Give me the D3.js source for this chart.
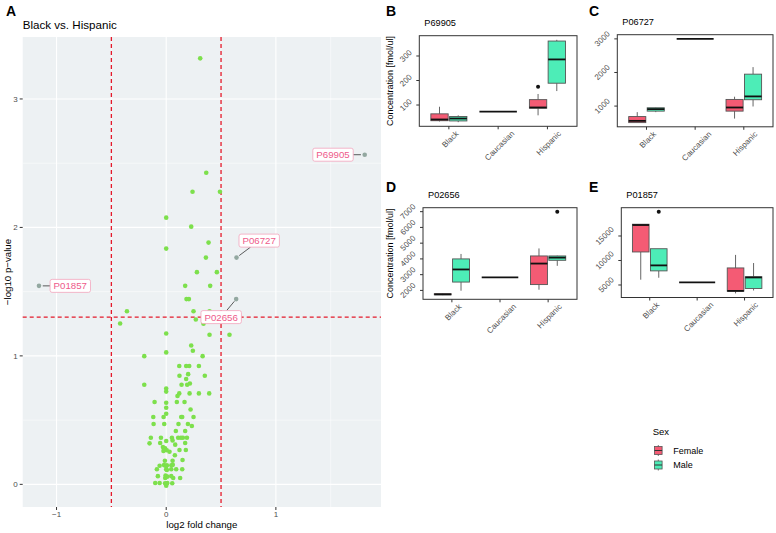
<!DOCTYPE html>
<html><head><meta charset="utf-8">
<script src="https://cdn.jsdelivr.net/npm/d3@7"></script>
<style>body{margin:0;background:#fff;} svg{display:block;font-family:"Liberation Sans",Arial,sans-serif;}</style>
</head><body><svg id="c" width="776" height="533"></svg>
<script>
// ---------------- DATA ----------------
// Volcano plot (Black vs. Hispanic): log2 fold change and -log10 p-value
const volcanoLog2FC = [
 0.31,0.365,0.24,0.49,0.0,0.228,0.386,0.0,0.362,0.28,0.462,0.173,0.401,0.185,0.207,-0.358,0.249,0.395,-0.42,0.27,0.34,0.0,0.395,0.577,0.228,0.243,0.0,-0.2,0.332,
 0.119,0.182,0.21,0.298,0.121,0.2,0.182,0.352,-0.2,0.14,0.191,0.216,0.0,0.0,0.119,0.103,0.213,0.298,0.392,
 -0.106,0.0,0.097,0.167,0.0,0.222,0.0,-0.118,-0.024,0.137,0.146,0.249,-0.115,-0.018,0.112,0.198,0.234,0.088,0.173,
 -0.14,-0.048,0.052,0.109,0.134,0.152,0.189,-0.152,-0.055,0.0,0.058,0.082,0.173,
 -0.03,-0.02,-0.01,-0.025,0.005,0.03,0.121,0.179,0.079,0.058,-0.012,0.149,
 -0.02,-0.06,0.006,0.0,0.047,0.06,-0.085,0.0,0.006,0.046,0.091,0.146,
 -0.076,-0.006,0.009,0.046,-0.009,0.064,0.127,-0.1,-0.06,-0.01,0.0,0.01,0.055,0.0
];
const volcanoNegLog10P = [
 3.316,2.426,2.278,2.278,2.076,2.006,1.882,1.835,1.765,1.652,1.652,1.545,1.545,1.442,1.442,1.348,1.348,1.348,1.252,1.283,1.25,1.174,1.164,1.164,1.081,1.04,1.027,0.998,0.998,
 0.921,0.921,0.921,0.921,0.845,0.858,0.82,0.845,0.775,0.775,0.775,0.785,0.746,0.722,0.708,0.688,0.708,0.708,0.708,
 0.641,0.635,0.641,0.641,0.596,0.583,0.55,0.524,0.524,0.524,0.524,0.524,0.47,0.47,0.47,0.47,0.454,0.415,0.415,
 0.363,0.363,0.363,0.363,0.363,0.363,0.363,0.319,0.322,0.337,0.342,0.309,0.322,
 0.29,0.27,0.28,0.26,0.265,0.254,0.267,0.267,0.226,0.184,0.184,0.19,
 0.15,0.145,0.148,0.14,0.148,0.152,0.118,0.118,0.112,0.118,0.118,0.118,
 0.064,0.068,0.06,0.064,0.05,0.05,0.05,0.01,0.01,0.008,0.0,0.01,0.008,-0.01
];
const highlightIds = ["P69905","P06727","P02656","P01857"];
const highlightLog2FC = [1.81,0.641,0.638,-1.16];
const highlightNegLog10P = [2.566,1.765,1.442,1.545];

const races = ["Black","Caucasian","Hispanic"];
const sexes = ["Female","Male"];
// box stats: [race, sex, min, q1, median, q3, max]
const p69905Box = [
 ["Black","Female",33,36,41,64,93],
 ["Black","Male",30,35,45,53,58],
 ["Caucasian","Female",73,73,73,73,73],
 ["Hispanic","Female",58,87,90,122,145],
 ["Hispanic","Male",157,189,286,361,366]];
const p69905Out = [["Hispanic","Female",175]];
const p06727Box = [
 ["Black","Female",508,508,560,688,820],
 ["Black","Male",820,850,910,950,958],
 ["Caucasian","Female",3000,3000,3000,3000,3000],
 ["Hispanic","Female",628,850,958,1198,1279],
 ["Hispanic","Male",988,1189,1288,1950,2160]];
const p06727Out = [];
const p02656Box = [
 ["Black","Female",1700,1720,1750,1790,1810],
 ["Black","Male",1980,2530,3330,4000,4314],
 ["Caucasian","Female",2834,2834,2834,2834,2834],
 ["Hispanic","Female",2044,2370,3705,4188,4665],
 ["Hispanic","Male",3560,3912,4082,4188,4207]];
const p02656Out = [["Hispanic","Male",6987]];
const p01857Box = [
 ["Black","Female",6080,11740,17240,17400,17400],
 ["Black","Male",6480,7880,9000,12400,12400],
 ["Caucasian","Female",5540,5540,5540,5540,5540],
 ["Hispanic","Female",3280,3740,3800,8480,11140],
 ["Hispanic","Male",3880,4280,6540,6680,9480]];
const p01857Out = [["Black","Male",19940]];
const ticksB = [100,200,300];
const ticksC = [1000,2000,3000];
const ticksD = [2000,3000,4000,5000,6000,7000];
const ticksE = [5000,10000,15000];
const volcanoXTicks = [-1,0,1];
const volcanoYTicks = [0,1,2,3];

// ---------------- STYLE / LAYOUT ----------------
const fillColor = {Female:"#F45B74", Male:"#4DEDB7"};
const svg = d3.select("#c");
const tickTxt = "#4D4D4D";

function panelLetter(t,x,y){
  svg.append("text").attr("x",x).attr("y",y).text(t)
    .attr("font-size",14).attr("font-weight","bold").attr("fill","#000");
}

// ---------- Panel A: volcano ----------
(function(){
  const L=22.7,R=381,T=37,B=507;
  const allX = volcanoLog2FC.concat(highlightLog2FC), allY = volcanoNegLog10P.concat(highlightNegLog10P);
  const [xa,xb]=d3.extent(allX), [ya,yb]=d3.extent(allY);
  const x = d3.scaleLinear().domain([xa-(xb-xa)*0.05, xb+(xb-xa)*0.05]).range([L,R]);
  const y = d3.scaleLinear().domain([ya-(yb-ya)*0.05, yb+(yb-ya)*0.05]).range([B,T]);
  const g = svg.append("g");
  g.append("rect").attr("x",L).attr("y",T).attr("width",R-L).attr("height",B-T).attr("fill","#EDF1F3");
  const minorX=[-1.5,-0.5,0.5,1.5].filter(v=>v>x.domain()[0]&&v<x.domain()[1]);
  const minorY=[0.5,1.5,2.5,3.5].filter(v=>v>y.domain()[0]&&v<y.domain()[1]);
  minorX.forEach(v=>g.append("line").attr("x1",x(v)).attr("x2",x(v)).attr("y1",T).attr("y2",B).attr("stroke","#fff").attr("stroke-width",0.5));
  minorY.forEach(v=>g.append("line").attr("x1",L).attr("x2",R).attr("y1",y(v)).attr("y2",y(v)).attr("stroke","#fff").attr("stroke-width",0.5));
  volcanoXTicks.forEach(v=>g.append("line").attr("x1",x(v)).attr("x2",x(v)).attr("y1",T).attr("y2",B).attr("stroke","#fff").attr("stroke-width",1.1));
  volcanoYTicks.forEach(v=>g.append("line").attr("x1",L).attr("x2",R).attr("y1",y(v)).attr("y2",y(v)).attr("stroke","#fff").attr("stroke-width",1.1));
  // threshold lines
  const red="#E41A2B";
  [-0.5,0.5].forEach(v=>g.append("line").attr("x1",x(v)).attr("x2",x(v)).attr("y1",T).attr("y2",B).attr("stroke",red).attr("stroke-width",1.3).attr("stroke-dasharray","4,3"));
  g.append("line").attr("x1",L).attr("x2",R).attr("y1",y(-Math.log10(0.05))).attr("y2",y(-Math.log10(0.05))).attr("stroke",red).attr("stroke-width",1.3).attr("stroke-dasharray","4,3");
  // points
  g.selectAll("circle.p").data(volcanoLog2FC.map((d,i)=>[d,volcanoNegLog10P[i]])).join("circle")
    .attr("cx",d=>x(d[0])).attr("cy",d=>y(d[1])).attr("r",2.3).attr("fill","#7DE04C");
  // axes ticks
  volcanoXTicks.forEach(v=>{
    g.append("line").attr("x1",x(v)).attr("x2",x(v)).attr("y1",B).attr("y2",B+3).attr("stroke","#333");
    g.append("text").attr("x",x(v)).attr("y",B+10).attr("text-anchor","middle").attr("font-size",8).attr("fill",tickTxt).text(v<0?"\u2212"+Math.abs(v):v);
  });
  volcanoYTicks.forEach(v=>{
    g.append("line").attr("x1",L-3).attr("x2",L).attr("y1",y(v)).attr("y2",y(v)).attr("stroke","#333");
    g.append("text").attr("x",L-5).attr("y",y(v)).attr("dy","0.35em").attr("text-anchor","end").attr("font-size",8).attr("fill",tickTxt).text(v);
  });
  g.append("text").attr("x",(L+R)/2).attr("y",B+21).attr("text-anchor","middle").attr("font-size",9.7).text("log2 fold change");
  g.append("text").attr("transform",`translate(8,${(T+B)/2}) rotate(-90)`).attr("text-anchor","middle").attr("dy","0.35em").attr("font-size",9.7).text("\u2212log10 p\u2212value");
  g.append("text").attr("x",L).attr("y",29).attr("font-size",11.6).text("Black vs. Hispanic");
  // highlighted points + labels
  const labelOffsets = [[-31.7,0],[22.7,-17],[-15,18],[31.3,0]];
  highlightIds.forEach((id,i)=>{
    const px=x(highlightLog2FC[i]), py=y(highlightNegLog10P[i]);
    const cx=px+labelOffsets[i][0], cy=py+labelOffsets[i][1];
    const t = g.append("text").attr("x",cx).attr("y",cy).attr("dy","0.35em").attr("text-anchor","middle")
      .attr("font-size",9.7).attr("fill","#EE5A8A").text(id);
    const w = t.node().getComputedTextLength()+7, h=13;
    // segment from point to box edge
    const dx=cx-px, dy=cy-py;
    const s = Math.min(Math.abs(dx)>0? (Math.abs(dx)-w/2)/Math.abs(dx):1, Math.abs(dy)>0?(Math.abs(dy)-h/2)/Math.abs(dy):1);
    const sMax = Math.max(Math.abs(dx)>0? (Math.abs(dx)-w/2)/Math.abs(dx):-1, Math.abs(dy)>0?(Math.abs(dy)-h/2)/Math.abs(dy):-1);
    const f = sMax;
    g.insert("line","text").attr("x1",px+dx*0.12).attr("y1",py+dy*0.12).attr("x2",px+dx*f).attr("y2",py+dy*f).attr("stroke","#333").attr("stroke-width",0.8);
    g.insert("rect","text").attr("x",cx-w/2).attr("y",cy-h/2).attr("width",w).attr("height",h).attr("rx",2)
      .attr("fill","#fff").attr("stroke","#F3A5BD").attr("stroke-width",0.8);
    g.append("circle").attr("cx",px).attr("cy",py).attr("r",2.3).attr("fill","#93A8A0");
    t.raise();
  });
})();

// ---------- Box panels ----------
function boxPanel(cfg, stats, outliers, ticks){
  const g = svg.append("g");
  const {left,right,top,bottom} = cfg;
  const x = d3.scalePoint().domain(races).range([left,right]).padding(0.6);
  const vals = stats.flatMap(s=>[s[2],s[6]]).concat(outliers.map(o=>o[2]));
  const [mn,mx]=d3.extent(vals), pad=(mx-mn)*0.05;
  const y = d3.scaleLinear().domain([mn-pad,mx+pad]).range([bottom,top]);
  const groupW = x.step()*0.76;
  const centerOf = (race,sex)=>{
    const grp = stats.filter(t=>t[0]===race);
    const n=grp.length, idx=grp.findIndex(t=>t[1]===sex);
    const w=groupW/n;
    return {xc: x(race)-groupW/2+idx*w+w/2, w: n>1? w-1.4 : w};
  };
  stats.forEach(s=>{
    const {xc,w}=centerOf(s[0],s[1]);
    const [,, mn_,q1,md,q3,mx_] = s;
    g.append("line").attr("x1",xc).attr("x2",xc).attr("y1",y(mn_)).attr("y2",y(q1)).attr("stroke","#555").attr("stroke-width",0.9);
    g.append("line").attr("x1",xc).attr("x2",xc).attr("y1",y(q3)).attr("y2",y(mx_)).attr("stroke","#555").attr("stroke-width",0.9);
    if(q3>q1){
      g.append("rect").attr("x",xc-w/2).attr("y",y(q3)).attr("width",w).attr("height",y(q1)-y(q3))
        .attr("fill",fillColor[s[1]]).attr("stroke","#555").attr("stroke-width",0.9);
    }
    g.append("line").attr("x1",xc-w/2).attr("x2",xc+w/2).attr("y1",y(md)).attr("y2",y(md)).attr("stroke","#111").attr("stroke-width",1.8);
  });
  outliers.forEach(o=>{
    const {xc}=centerOf(o[0],o[1]);
    g.append("circle").attr("cx",xc).attr("cy",y(o[2])).attr("r",2).attr("fill","#111");
  });
  g.append("rect").attr("x",left).attr("y",top).attr("width",right-left).attr("height",bottom-top)
    .attr("fill","none").attr("stroke","#333").attr("stroke-width",1);
  // y ticks
  ticks.forEach(v=>{
    g.append("line").attr("x1",left-3).attr("x2",left).attr("y1",y(v)).attr("y2",y(v)).attr("stroke","#333");
    const t=g.append("text").attr("font-size",8).attr("fill",tickTxt).attr("text-anchor","middle").attr("dominant-baseline","central").text(v);
    const Lw=t.node().getComputedTextLength();
    const bw=(Lw+6)*0.7071;
    t.attr("transform",`translate(${left-6.5-bw/2},${y(v)}) rotate(-45)`);
  });
  // x ticks
  races.forEach(r=>{
    g.append("line").attr("x1",x(r)).attr("x2",x(r)).attr("y1",bottom).attr("y2",bottom+3).attr("stroke","#333");
    const t=g.append("text").attr("font-size",8).attr("fill",tickTxt).attr("text-anchor","middle").attr("dominant-baseline","central").text(r);
    const Lw=t.node().getComputedTextLength();
    const bh=(Lw+6)*0.7071;
    t.attr("transform",`translate(${x(r)+1.5},${bottom+4+bh/2}) rotate(-45)`);
  });
  g.append("text").attr("x",left+5).attr("y",top-9.5).attr("font-size",9.2).text(cfg.title);
  if(cfg.ylab){
    g.append("text").attr("transform",`translate(${cfg.ylabX},${(top+bottom)/2}) rotate(-90)`).attr("text-anchor","middle")
      .attr("dy","0.35em").attr("font-size",9).text("Concentration [fmol/ul]");
  }
}
boxPanel({left:419.3,right:577,top:35.7,bottom:126.3,title:"P69905",ylab:true,ylabX:390},p69905Box,p69905Out,ticksB);
boxPanel({left:617.3,right:773,top:34.7,bottom:126.8,title:"P06727",ylab:false},p06727Box,p06727Out,ticksC);
boxPanel({left:423,right:577,top:207.7,bottom:299.3,title:"P02656",ylab:true,ylabX:390},p02656Box,p02656Out,ticksD);
boxPanel({left:621.3,right:773,top:207.7,bottom:297.5,title:"P01857",ylab:false},p01857Box,p01857Out,ticksE);

panelLetter("A",6,16); panelLetter("B",386,16); panelLetter("C",589,16); panelLetter("D",386,192); panelLetter("E",589,192);

// ---------- Legend ----------
(function(){
  const g=svg.append("g");
  g.append("text").attr("x",652.7).attr("y",435).attr("font-size",9.5).text("Sex");
  sexes.forEach((s,i)=>{
    const ky=446.5+i*14.5;
    g.append("line").attr("x1",658.3).attr("x2",658.3).attr("y1",ky-1.5).attr("y2",ky+9.5).attr("stroke","#555").attr("stroke-width",0.8);
    g.append("rect").attr("x",654.5).attr("y",ky).attr("width",7.6).attr("height",8).attr("fill",fillColor[s]).attr("stroke","#555").attr("stroke-width",0.8);
    g.append("line").attr("x1",654.5).attr("x2",662.1).attr("y1",ky+4).attr("y2",ky+4).attr("stroke","#333").attr("stroke-width",1);
    g.append("text").attr("x",673.3).attr("y",ky+4).attr("dy","0.35em").attr("font-size",9).text(s);
  });
})();
</script></body></html>
